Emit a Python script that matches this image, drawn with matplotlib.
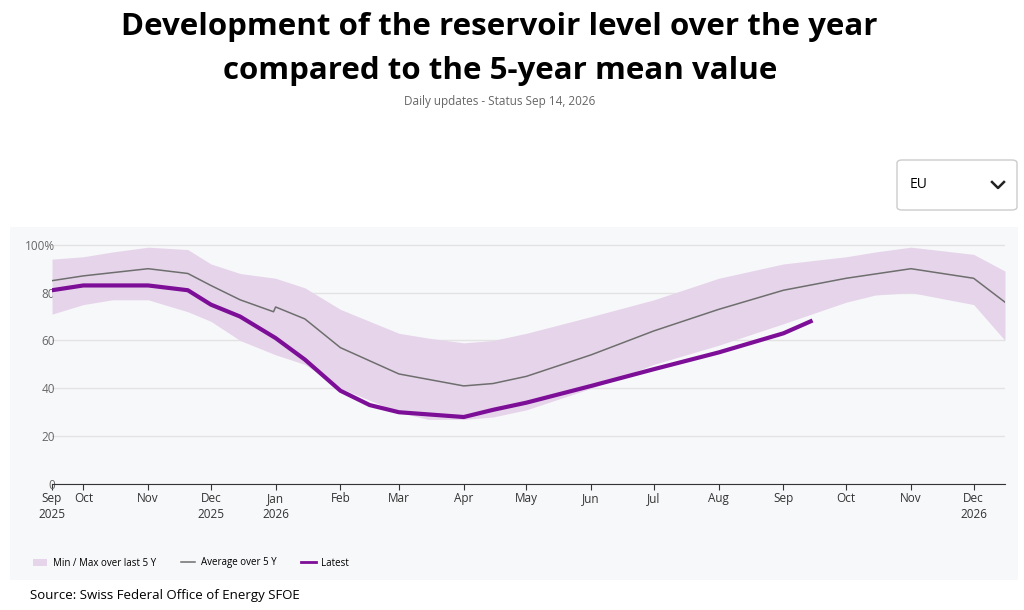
import numpy as np
import pandas as pd
import matplotlib.pyplot as plt
import matplotlib.dates as mdates
from matplotlib.patches import Rectangle, FancyBboxPatch
from matplotlib.lines import Line2D

plt.rcParams['font.family'] = ['Open Sans', 'DejaVu Sans']

# band (min / max over last 5 years)
band_dates = pd.to_datetime(["2025-09-16", "2025-10-01", "2025-10-15", "2025-11-01", "2025-11-20",
                             "2025-12-01", "2025-12-15", "2026-01-01", "2026-01-15", "2026-02-01",
                             "2026-03-01", "2026-03-15", "2026-04-01", "2026-04-15", "2026-05-01",
                             "2026-06-01", "2026-07-01", "2026-08-01", "2026-09-01", "2026-10-01",
                             "2026-10-15", "2026-11-01", "2026-12-01", "2026-12-16"])
band_max = [94, 95, 97, 99, 98, 92, 88, 86, 82, 73, 63, 61, 59, 60, 63, 70, 77, 86, 92, 95, 97, 99, 96, 89]
band_min = [71, 75, 77, 77, 72, 68, 60, 54, 50, 40, 30, 27, 27, 28, 31, 40, 50, 58, 67, 76, 79, 80, 75, 60]

avg_dates = pd.to_datetime(["2025-09-16", "2025-10-01", "2025-11-01", "2025-11-20", "2025-12-01",
                            "2025-12-15", "2025-12-31", "2026-01-01", "2026-01-15", "2026-02-01",
                            "2026-03-01", "2026-04-01", "2026-04-15", "2026-05-01", "2026-06-01",
                            "2026-07-01", "2026-08-01", "2026-09-01", "2026-10-01", "2026-11-01",
                            "2026-12-01", "2026-12-16"])
avg_vals = [85, 87, 90, 88, 83, 77, 72, 74, 69, 57, 46, 41, 42, 45, 54, 64, 73, 81, 86, 90, 86, 76]

latest_dates = pd.to_datetime(["2025-09-16", "2025-10-01", "2025-11-01", "2025-11-20", "2025-12-01",
                               "2025-12-15", "2026-01-01", "2026-01-15", "2026-02-01", "2026-02-15",
                               "2026-03-01", "2026-04-01", "2026-04-15", "2026-05-01", "2026-06-01",
                               "2026-07-01", "2026-08-01", "2026-09-01", "2026-09-14"])
latest_vals = [81, 83, 83, 81, 75, 70, 61, 52, 39, 33, 30, 28, 31, 34, 41, 48, 55, 63, 68]

tick_dates = pd.to_datetime(["2025-09-16", "2025-10-01", "2025-11-01", "2025-12-01", "2026-01-01",
                             "2026-02-01", "2026-03-01", "2026-04-01", "2026-05-01", "2026-06-01",
                             "2026-07-01", "2026-08-01", "2026-09-01", "2026-10-01", "2026-11-01",
                             "2026-12-01"])
tick_labels = ["Sep\n2025", "Oct", "Nov", "Dec\n2025", "Jan\n2026", "Feb", "Mar", "Apr", "May",
               "Jun", "Jul", "Aug", "Sep", "Oct", "Nov", "Dec\n2026"]

fig = plt.figure(figsize=(10.24, 6.1), dpi=100)
fig.patches.append(Rectangle((10/1024, 1-580/610), 1008/1024, 353/610, transform=fig.transFigure,
                             facecolor="#f7f8fa", edgecolor="none", zorder=0))
ax = fig.add_axes([52/1024, 1-484/610, 953/1024, 244/610])
ax.set_facecolor("none")
ax.set_zorder(2)

ax.fill_between(band_dates, band_min, band_max, color="#e6d5ea", lw=0)
ax.plot(avg_dates, avg_vals, color="#6e6e6e", lw=1.1)
ax.plot(latest_dates, latest_vals, color="#7d0e97", lw=3)

ax.set_xlim(pd.Timestamp("2025-09-16"), pd.Timestamp("2026-12-16"))
ax.set_ylim(0, 102)
ax.set_yticks([0, 20, 40, 60, 80, 100])
ax.set_yticklabels(["0", "20", "40", "60", "80", "100%"])
ax.set_xticks(tick_dates)
ax.set_xticklabels(tick_labels, fontsize=8.5, color="#333333", va="top", linespacing=1.25)
ax.tick_params(axis="y", length=0, labelsize=8.5, labelcolor="#666666", pad=-2)
ax.tick_params(axis="x", length=4, color="#333333", pad=2)
ax.grid(axis="y", color="#e3e3e3", lw=1)
ax.set_axisbelow(True)
for s in ["top", "right", "left"]:
    ax.spines[s].set_visible(False)
ax.spines["bottom"].set_color("#333333")

fig.text(0.488, 1-27/610, "Development of the reservoir level over the year", ha="center", va="center",
         fontsize=22.5, fontweight="bold")
fig.text(0.488, 1-71/610, "compared to the 5-year mean value", ha="center", va="center",
         fontsize=22.5, fontweight="bold")
fig.text(0.488, 1-102/610, "Daily updates - Status Sep 14, 2026", ha="center", va="center",
         fontsize=8.5, color="#666666")

fig.patches.append(FancyBboxPatch((897/1024, 1-210/610), 120/1024, 50/610, transform=fig.transFigure,
                                  boxstyle="round,pad=0,rounding_size=0.005", facecolor="white",
                                  edgecolor="#cccccc", lw=1))
fig.text(910/1024, 1-185/610, "EU", va="center", fontsize=10)
fig.lines.append(Line2D([992/1024, 998/1024, 1004/1024], [1-182/610, 1-188/610, 1-182/610],
                        transform=fig.transFigure, color="#222222", lw=1.8))

handles = [Rectangle((0, 0), 1, 1, facecolor="#e6d5ea"),
           Line2D([], [], color="#6e6e6e", lw=1.1),
           Line2D([], [], color="#7d0e97", lw=2)]
fig.legend(handles, ["Min / Max over last 5 Y", "Average over 5 Y", "Latest"], loc="center left",
           bbox_to_anchor=(24/1024, 1-563/610), ncol=3, frameon=False, fontsize=7,
           handlelength=1.5, columnspacing=2.5, handletextpad=0.6)
fig.text(30/1024, 1-596/610, "Source: Swiss Federal Office of Energy SFOE", va="center", fontsize=9.5)

fig.savefig("out.png", dpi=100)
